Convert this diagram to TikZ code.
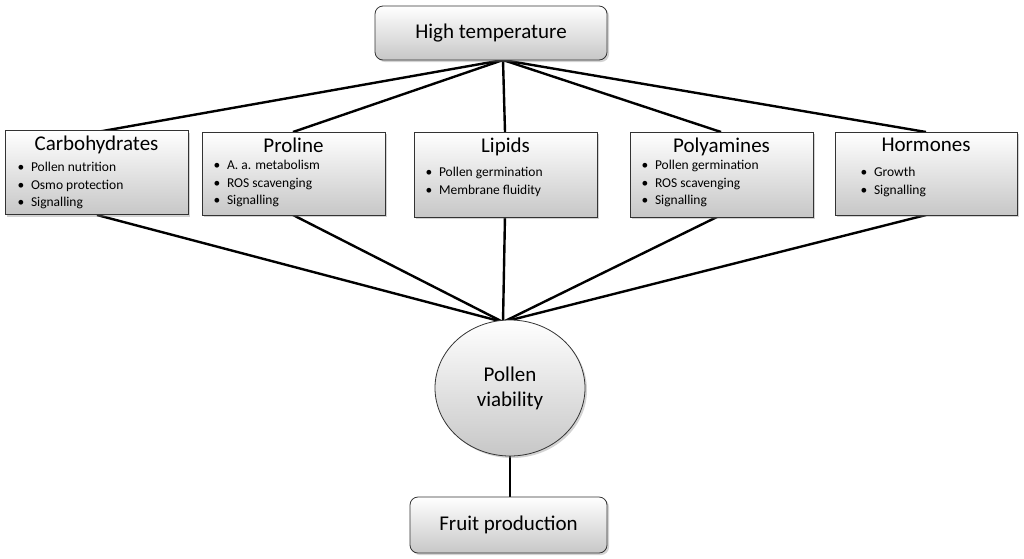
\documentclass[tikz,border=0pt]{standalone}
\usepackage{fontspec}
\setmainfont{Carlito}
\usetikzlibrary{shadows,shapes.geometric}
\begin{document}
\begin{tikzpicture}[x=1pt,y=-1pt,
box/.style={draw=black!80,line width=0.8pt,top color=white,bottom color=black!22,drop shadow={opacity=0.35,shadow xshift=2pt,shadow yshift=-2pt}},
ttl/.style={font=\fontsize{21}{23}\selectfont,anchor=north},
bl/.style={font=\fontsize{13.5}{17.5}\selectfont,anchor=north west,align=left},
ln/.style={line width=2.4pt}]
\useasboundingbox (0,0) rectangle (1024,558);
\coordinate (top) at (503,60);
\coordinate (mid) at (503,322);
\foreach \cx in {97,293,505,721,926}{\draw[ln] (top) -- (\cx,132);}
\foreach \cx in {97,293,505,721,926}{\draw[ln] (\cx,215) -- (mid);}
\draw[ln] (510,456) -- (510,497);
\node[box,rounded corners=8pt,minimum width=232pt,minimum height=54pt,font=\fontsize{21}{23}\selectfont] (ht) at (491,33) {High temperature};
\node[box,minimum width=183pt,minimum height=84pt] (c) at (96.5,172.5) {};
\node[box,minimum width=183pt,minimum height=83pt] (p) at (293.5,173.5) {};
\node[box,minimum width=183pt,minimum height=85pt] (l) at (505.5,174.5) {};
\node[box,minimum width=183pt,minimum height=85pt] (pa) at (721.5,174.5) {};
\node[box,minimum width=182pt,minimum height=83pt] (h) at (926,173.5) {};
\node[ttl] at (96.5,132) {Carbohydrates};
\node[ttl] at (293.5,134) {Proline};
\node[ttl] at (505.5,134) {Lipids};
\node[ttl] at (721.5,134) {Polyamines};
\node[ttl] at (926,134) {Hormones};
\node[bl] at (14,159) {•\enspace Pollen nutrition\\•\enspace Osmo protection\\•\enspace Signalling};
\node[bl] at (210,157) {•\enspace A. a. metabolism\\•\enspace ROS scavenging\\•\enspace Signalling};
\node[bl] at (422,164) {•\enspace Pollen germination\\•\enspace Membrane fluidity};
\node[bl] at (638,157) {•\enspace Pollen germination\\•\enspace ROS scavenging\\•\enspace Signalling};
\node[bl] at (857,164) {•\enspace Growth\\•\enspace Signalling};
\node[box,ellipse,minimum width=150pt,minimum height=136pt,align=center,font=\fontsize{21}{25}\selectfont] (pv) at (510,388) {Pollen\\viability};
\node[box,rounded corners=8pt,minimum width=197pt,minimum height=56pt,font=\fontsize{21}{23}\selectfont] (fp) at (508.5,525) {Fruit production};
\end{tikzpicture}
\end{document}
